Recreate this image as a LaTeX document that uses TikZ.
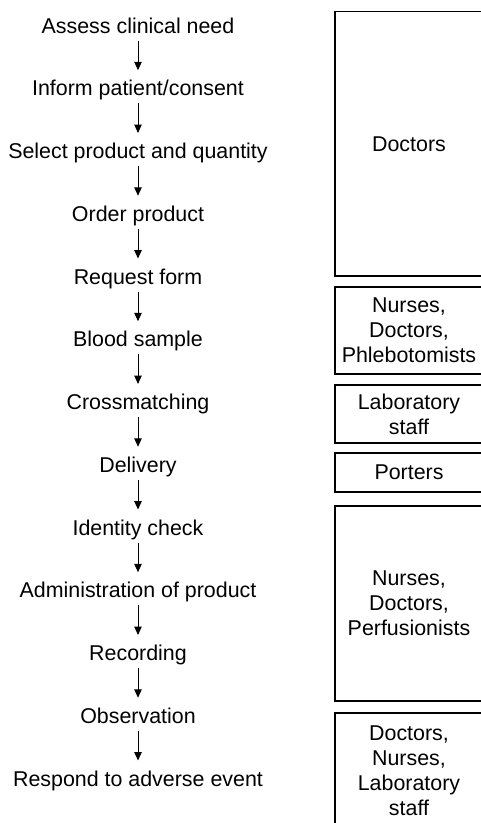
\documentclass[tikz,border=0pt]{standalone}
\usepackage{fontspec}
\setmainfont{Liberation Sans}
\usetikzlibrary{arrows.meta}

\begin{document}
\begin{tikzpicture}[x=1pt,y=-1pt,
  act/.style={inner sep=0pt,outer sep=0pt,text height=15.5pt,text depth=4.5pt,font=\fontsize{21.4}{26}\selectfont},
  staff/.style={draw,line width=1.1pt,inner sep=0pt,outer sep=0pt,minimum width=148pt,align=center,font=\fontsize{21.4}{25}\selectfont},
  edge/.style={-{Triangle[length=8.5pt,width=7.5pt]},line width=1pt,shorten <=3pt,shorten >=10pt}
]
\useasboundingbox (0,0) rectangle (481,823);
\clip (0,0) rectangle (481,823);
% steps of the transfusion chain
\node[act] (s1) at (138,27.5) {Assess clinical need};
\node[act] (s2) at (138,90.25) {Inform patient/consent};
\node[act] (s3) at (138,153) {Select product and quantity};
\node[act] (s4) at (138,215.75) {Order product};
\node[act] (s5) at (138,278.5) {Request form};
\node[act] (s6) at (138,341.25) {Blood sample};
\node[act] (s7) at (138,404) {Crossmatching};
\node[act] (s8) at (138,466.75) {Delivery};
\node[act] (s9) at (138,529.5) {Identity check};
\node[act] (s10) at (138,592.25) {Administration of product};
\node[act] (s11) at (138,655) {Recording};
\node[act] (s12) at (138,717.75) {Observation};
\node[act] (s13) at (138,780.5) {Respond to adverse event};
\foreach \i [evaluate=\i as \j using int(\i+1)] in {1,...,12}
  \draw[edge] (s\i) -- (s\j);
% who is responsible
\node[staff,minimum height=264.5pt] (d1) at (409,143.75) {Doctors};
\node[staff,minimum height=87pt] (d2) at (409,330.5) {Nurses,\\Doctors,\\Phlebotomists};
\node[staff,minimum height=58pt] (d3) at (409,414) {Laboratory\\staff};
\node[staff,minimum height=39pt] (d4) at (409,472.5) {Porters};
\node[staff,minimum height=195pt] (d5) at (409,603.5) {Nurses,\\Doctors,\\Perfusionists};
\node[staff,minimum height=115pt] (d6) at (409,770.5) {Doctors,\\Nurses,\\Laboratory\\staff};
\end{tikzpicture}
\end{document}
